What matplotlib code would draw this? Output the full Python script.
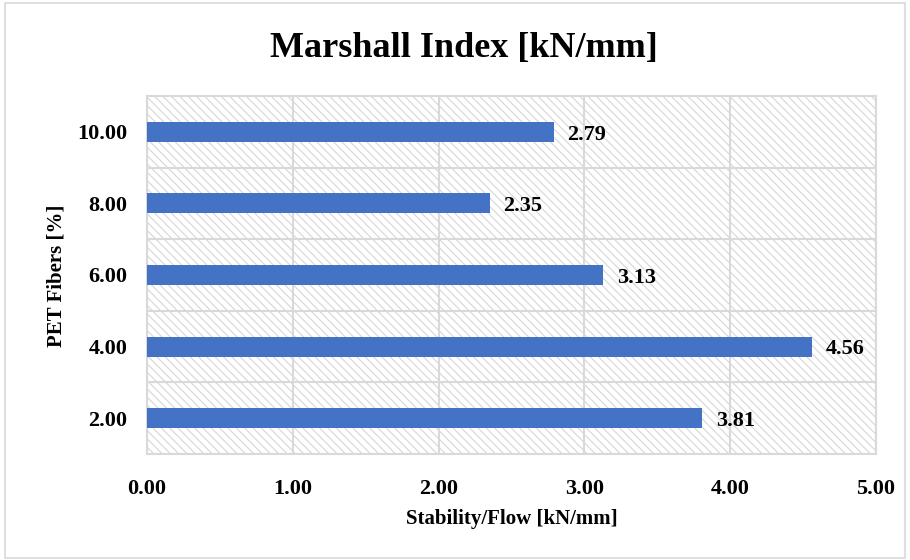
import matplotlib.pyplot as plt
from matplotlib.patches import Rectangle

# PET fiber content and Marshall index values
fibers = ['2.00', '4.00', '6.00', '8.00', '10.00']
index_values = [3.81, 4.56, 3.13, 2.35, 2.79]
x_ticks = [0, 1, 2, 3, 4, 5]

plt.rcParams['font.family'] = ['Liberation Serif', 'DejaVu Serif']
plt.rcParams['font.weight'] = 'bold'
plt.rcParams['hatch.color'] = '#d6d6d6'
plt.rcParams['hatch.linewidth'] = 0.8

fig = plt.figure(figsize=(9.1, 5.6), dpi=100)
ax = fig.add_axes([0.1615, 0.1893, 0.8011, 0.6393])

# light border around the whole chart
fig.patches.append(Rectangle((0.006, 0.004), 0.988, 0.99, transform=fig.transFigure,
                             fill=False, edgecolor='#d9d9d9', linewidth=1.2))

# hatched plot area background
ax.add_patch(Rectangle((0, 0), 1, 1, transform=ax.transAxes, facecolor='white',
                       edgecolor='#d6d6d6', hatch='\\\\\\\\', linewidth=0, zorder=0))

pos = range(len(fibers))
ax.barh(pos, index_values, height=0.28, color='#4472c4', zorder=3)
for p, v in zip(pos, index_values):
    ax.text(v + 0.095, p - 0.04, f'{v:.2f}', va='center', ha='left',
            fontsize=16, fontweight='bold', zorder=4)

ax.set_xlim(0, 5)
ax.set_ylim(-0.5, len(fibers) - 0.5)
ax.set_xticks(x_ticks)
ax.set_xticklabels([f'{t:.2f}' for t in x_ticks], fontsize=16)
ax.set_yticks(list(pos))
ax.set_yticklabels(fibers, fontsize=16)
ax.set_yticks([p + 0.5 for p in pos][:-1], minor=True)
ax.tick_params(axis='both', which='both', length=0)
ax.tick_params(axis='x', pad=18)
ax.tick_params(axis='y', pad=14)

ax.grid(axis='x', color='#d9d9d9', linewidth=1.5, zorder=1)
ax.grid(axis='y', which='minor', color='#d9d9d9', linewidth=1.5, zorder=1)
ax.set_axisbelow(True)
for s in ax.spines.values():
    s.set_color('#d9d9d9')
    s.set_linewidth(1.5)

fig.text(0.562, 1 - 519 / 560, 'Stability/Flow [kN/mm]', ha='center', va='center',
         fontsize=15, fontweight='bold')
fig.text(57 / 910, 1 - 276 / 560, 'PET Fibers [%]', ha='center', va='center',
         rotation=90, fontsize=15, fontweight='bold')
fig.text(0.51, 1 - 57 / 560, 'Marshall Index [kN/mm]', ha='center', va='baseline',
         fontsize=26, fontweight='bold')

fig.savefig('out.png', dpi=100)
